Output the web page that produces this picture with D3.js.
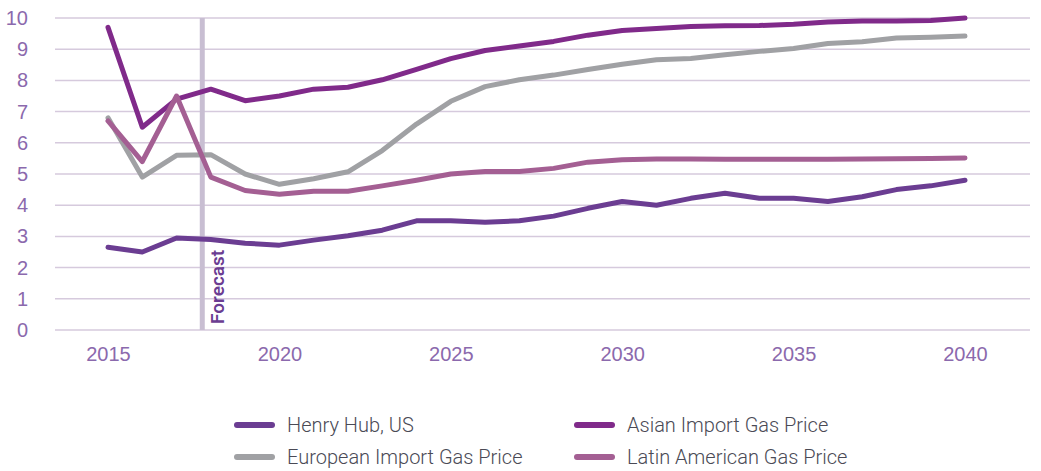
<!DOCTYPE html>
<html>
<head>
<meta charset="utf-8">
<script src="https://cdn.jsdelivr.net/npm/d3@7"></script>
<style>
  body { margin: 0; background: #fff; }
  svg { display: block; font-family: Roboto, 'Noto Sans', sans-serif; }
</style>
</head>
<body>
<svg id="chart" width="1041" height="471"></svg>
<script>
const years = d3.range(2015, 2041)
const yTicks = [0, 1, 2, 3, 4, 5, 6, 7, 8, 9, 10]
const xTicks = [2015, 2020, 2025, 2030, 2035, 2040]
const forecastYear = 2017.75

const henryHub = [2.65, 2.5, 2.95, 2.9, 2.78, 2.72, 2.88, 3.02, 3.2, 3.5, 3.5, 3.45, 3.5, 3.65, 3.9, 4.12, 4.0, 4.22, 4.38, 4.22, 4.22, 4.12, 4.27, 4.5, 4.62, 4.8]
const asian = [9.7, 6.5, 7.4, 7.72, 7.35, 7.5, 7.72, 7.78, 8.02, 8.35, 8.7, 8.96, 9.1, 9.25, 9.45, 9.6, 9.66, 9.73, 9.75, 9.76, 9.8, 9.87, 9.9, 9.9, 9.92, 10.0]
const european = [6.8, 4.9, 5.6, 5.62, 5.0, 4.67, 4.85, 5.07, 5.75, 6.6, 7.33, 7.8, 8.02, 8.17, 8.35, 8.52, 8.66, 8.7, 8.82, 8.93, 9.02, 9.18, 9.24, 9.36, 9.38, 9.42]
const latin = [6.7, 5.4, 7.5, 4.9, 4.47, 4.35, 4.45, 4.45, 4.62, 4.8, 5.0, 5.08, 5.08, 5.18, 5.38, 5.46, 5.48, 5.48, 5.47, 5.47, 5.47, 5.47, 5.48, 5.49, 5.5, 5.51]

const seriesNames = ['Henry Hub, US', 'Asian Import Gas Price', 'European Import Gas Price', 'Latin American Gas Price']
const seriesColors = ['#6b3d92', '#802a8a', '#a0a1a4', '#a45f93']

const series = [henryHub, asian, european, latin].map((values, i) => ({
  name: seriesNames[i],
  color: seriesColors[i],
  values: values.map((v, j) => ({ year: years[j], value: v }))
}))

const svg = d3.select('#chart')

const x = d3.scaleLinear().domain([2015, 2040]).range([108, 965])
const y = d3.scaleLinear().domain([0, 10]).range([330, 18])
const gridLeft = 55
const gridRight = 1030

// grid lines
svg.append('g')
  .selectAll('line')
  .data(yTicks)
  .join('line')
  .attr('x1', gridLeft)
  .attr('x2', gridRight)
  .attr('y1', d => y(d))
  .attr('y2', d => y(d))
  .attr('stroke', '#d6cadd')
  .attr('stroke-width', 1.5)

// y axis labels
const yAxis = svg.append('g')
  .attr('transform', `translate(28,0)`)
  .call(d3.axisLeft(y).tickValues(yTicks).tickSize(0).tickPadding(0))
yAxis.select('.domain').remove()
yAxis.selectAll('text')
  .attr('fill', '#8b69ad')
  .attr('font-size', 20)
  .attr('font-weight', 300)

// x axis labels
const xAxis = svg.append('g')
  .attr('transform', `translate(0,347)`)
  .call(d3.axisBottom(x).tickValues(xTicks).tickFormat(d3.format('d')).tickSize(0).tickPadding(0))
xAxis.select('.domain').remove()
xAxis.selectAll('text')
  .attr('fill', '#8b69ad')
  .attr('font-size', 20)
  .attr('font-weight', 300)

// forecast marker
svg.append('line')
  .attr('x1', x(forecastYear))
  .attr('x2', x(forecastYear))
  .attr('y1', y(10))
  .attr('y2', y(0))
  .attr('stroke', '#c8bed2')
  .attr('stroke-width', 5)

svg.append('text')
  .attr('transform', `translate(${x(forecastYear) + 22},${y(0) - 6}) rotate(-90)`)
  .attr('fill', '#6b3d92')
  .attr('font-size', 19)
  .attr('font-weight', 600)
  .text('Forecast')

// series lines
const line = d3.line()
  .x(d => x(d.year))
  .y(d => y(d.value))

svg.append('g')
  .selectAll('path')
  .data(series)
  .join('path')
  .attr('d', d => line(d.values))
  .attr('fill', 'none')
  .attr('stroke', d => d.color)
  .attr('stroke-width', 5)
  .attr('stroke-linejoin', 'round')
  .attr('stroke-linecap', 'round')

// legend
const legend = svg.append('g')
  .selectAll('g')
  .data(series)
  .join('g')
  .attr('transform', (d, i) => `translate(${i % 2 === 0 ? 237 : 577},${i < 2 ? 425 : 457})`)

legend.append('line')
  .attr('x1', 0)
  .attr('x2', 35)
  .attr('stroke', d => d.color)
  .attr('stroke-width', 6)
  .attr('stroke-linecap', 'round')

legend.append('text')
  .attr('x', 50)
  .attr('dy', '0.35em')
  .attr('fill', '#4a4a55')
  .attr('font-size', 20)
  .attr('font-weight', 300)
  .text(d => d.name)
</script>
</body>
</html>
